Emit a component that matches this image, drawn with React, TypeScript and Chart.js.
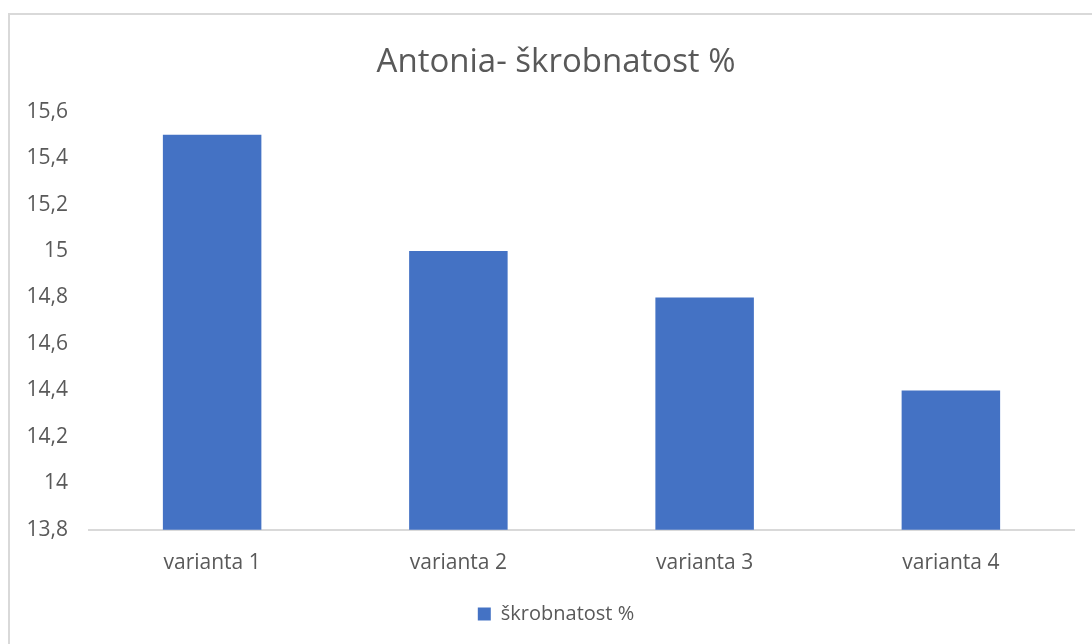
import React, { useEffect, useRef } from "react";
import { Chart, registerables } from "chart.js";

Chart.register(...registerables);

const categories = ["varianta 1", "varianta 2", "varianta 3", "varianta 4"];
const values = [15.5, 15.0, 14.8, 14.4];
const seriesLabel = "škrobnatost %";
const titleText = "Antonia- škrobnatost %";

const FONT = "'Open Sans', Lato, sans-serif";

export default function App() {
  const ref = useRef<HTMLCanvasElement | null>(null);
  useEffect(() => {
    document.body.style.overflow = "hidden";
    const ctx = ref.current!;
    const chart = new Chart(ctx, {
      type: "bar",
      data: {
        labels: categories,
        datasets: [
          {
            label: seriesLabel,
            data: values,
            backgroundColor: "#4472C4",
            borderWidth: 0,
            categoryPercentage: 1,
            barPercentage: 0.4,
            yAxisID: "y",
          },
        ],
      },
      options: {
        animation: false,
        responsive: false,
        maintainAspectRatio: false,
        layout: { padding: { left: 0, right: 0, top: 0, bottom: 10 } },
        plugins: {
          title: {
            display: true,
            text: titleText,
            color: "#595959",
            font: { family: FONT, size: 33, weight: "normal" },
            padding: { top: 28, bottom: 29 },
          },
          legend: {
            position: "bottom",
            labels: {
              color: "#595959",
              font: { family: FONT, size: 20 },
              boxWidth: 13,
              boxHeight: 13,
              padding: 7,
            },
          },
          tooltip: { enabled: false },
        },
        scales: {
          x: {
            grid: { display: false, drawTicks: false },
            border: { display: true, color: "#d9d9d9", width: 2 },
            ticks: {
              color: "#595959",
              font: { family: FONT, size: 21 },
              padding: 21,
            },
          },
          y: {
            min: 13.8,
            max: 15.6,
            grid: { display: false, drawTicks: false },
            border: { display: false },
            afterFit: (scale: any) => {
              scale.width = 79;
            },
            ticks: {
              stepSize: 0.2,
              color: "#595959",
              font: { family: FONT, size: 21 },
              padding: 21,
              callback: (v: any) => {
                const n = Math.round(Number(v) * 10) / 10;
                return String(n).replace(".", ",");
              },
            },
          },
          spacer: {
            type: "linear",
            position: "right",
            grid: { display: false, drawTicks: false },
            border: { display: false },
            ticks: { display: false },
            afterFit: (scale: any) => {
              scale.width = 28;
            },
          },
        },
      },
    });
    return () => chart.destroy();
  }, []);
  return (
    <div
      style={{
        position: "absolute",
        left: 8,
        top: 13,
        width: 1100,
        height: 650,
        border: "2px solid #d9d9d9",
        background: "#fff",
        boxSizing: "border-box",
        overflow: "hidden",
      }}
    >
      <canvas ref={ref} width={1092} height={629} style={{ display: "block" }} />
    </div>
  );
}
